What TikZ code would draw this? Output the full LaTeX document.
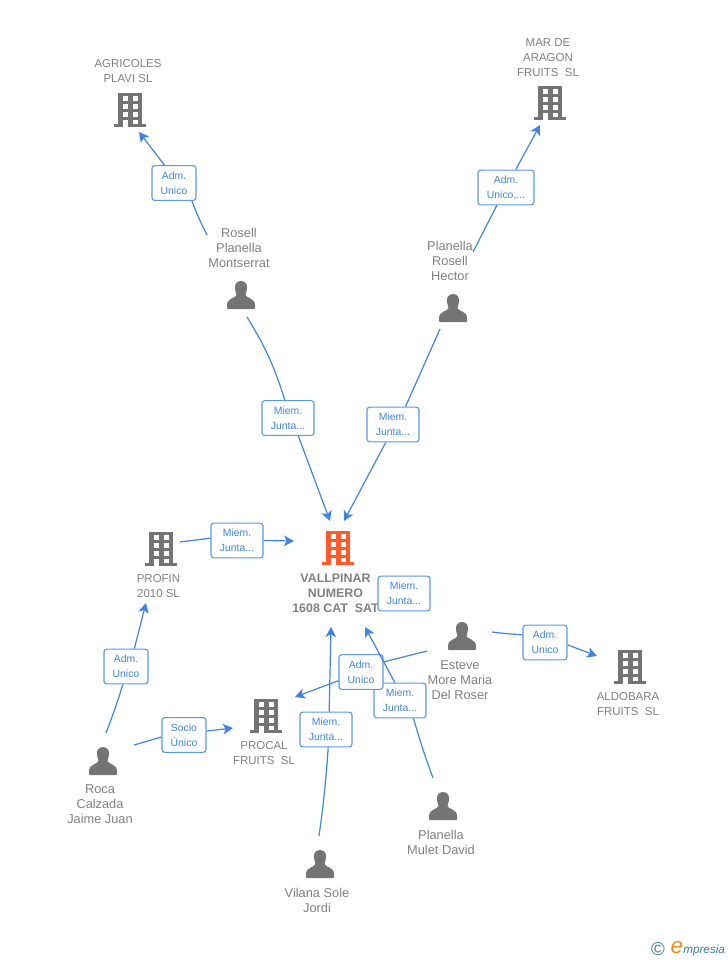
\documentclass[tikz,border=0pt]{standalone}
\usepackage{fontspec}
\setmainfont{Liberation Sans}
\usetikzlibrary{arrows.meta}
\definecolor{linkblue}{HTML}{3F84E5}
\definecolor{boxblue}{HTML}{5A98E8}
\definecolor{namegray}{HTML}{808080}
\definecolor{icongray}{HTML}{747474}
\definecolor{mainorange}{HTML}{FF5A2B}
\definecolor{logoteal}{HTML}{3B7C96}
\definecolor{logoorange}{HTML}{F58A1F}
\tikzstyle{who} = [inner sep=0, align=center, text=namegray, font={\fontsize{9.6}{11.25}\selectfont}]
\tikzstyle{firm} = [who, font={\fontsize{8.6}{11.25}\selectfont}]
\tikzstyle{mainfirm} = [who, font={\fontsize{9.3}{11.25}\selectfont\bfseries}]
\tikzstyle{role} = [draw=boxblue, line width=0.85pt, fill=white, rounded corners=2pt, inner sep=0, align=center, text=linkblue, minimum width=39pt, minimum height=26pt, font={\fontsize{7.8}{11.25}\selectfont}]
\tikzstyle{roleshort} = [role, minimum width=33pt]
\tikzstyle{rolewide} = [role, minimum width=42pt]
\tikzstyle{link} = [draw=linkblue, line width=0.9pt]
\tikzstyle{arrow} = [link, -{Stealth[length=7.5pt,width=8pt,inset=2pt]}]
\tikzset{
  building/.pic={
    \fill[pic actions] (-12,-17) rectangle (12,14);
    \fill[pic actions] (-16,14) rectangle (16,17);
    \foreach \row in {-14,-6,2} {
      \fill[white] (-7.5,\row) rectangle (-2.5,\row+4.5);
      \fill[white] (2.5,\row) rectangle (7.5,\row+4.5);
    }
    \fill[white] (-7.5,9.5) rectangle (-2.5,17);
    \fill[white] (2.5,9.5) rectangle (7.5,13.5);
  },
  person/.pic={
    \fill[icongray] (0,-14) .. controls (-5,-14) and (-6.5,-10) .. (-6,-6)
      .. controls (-5.7,-3) and (-4.5,-1.5) .. (-4.5,0)
      .. controls (-5,3) and (-14,3) .. (-14,10)
      -- (-14,13) .. controls (-14,14) and (-13.5,14) .. (-13,14)
      -- (13,14) .. controls (13.5,14) and (14,14) .. (14,13) -- (14,10)
      .. controls (14,3) and (5,3) .. (4.5,0)
      .. controls (4.5,-1.5) and (5.7,-3) .. (6,-6)
      .. controls (6.5,-10) and (5,-14) .. (0,-14) -- cycle;
  }
}

\begin{document}
\begin{tikzpicture}[x=0.75pt,y=-0.75pt]
    \useasboundingbox (0,0) rectangle (728,960);
    % companies
    \pic[icongray] at (130,110) {building};
    \pic[icongray] at (550,103) {building};
    \pic[mainorange] at (338,548) {building};
    \pic[icongray] at (161,549) {building};
    \pic[icongray] at (630,667) {building};
    \pic[icongray] at (266,716) {building};
    \node[firm](agricoles) at (128,71.5){AGRICOLES\\PLAVI SL};
    \node[firm](mardearagon) at (548,58){MAR DE\\ARAGON\\FRUITS\ \ SL};
    \node[mainfirm](vallpinar) at (335.5,593){VALLPINAR\\NUMERO\\1608 CAT\ \ SAT};
    \node[firm](profin) at (158.5,586.5){PROFIN\\2010 SL};
    \node[firm](aldobara) at (628,704.5){ALDOBARA\\FRUITS\ \ SL};
    \node[firm](procal) at (264,753.5){PROCAL\\FRUITS\ \ SL};
    % people
    \pic at (241,295) {person};
    \pic at (453,308) {person};
    \pic at (462,636) {person};
    \pic at (103,761) {person};
    \pic at (443,806) {person};
    \pic at (320,864) {person};
    \node[who](rosell) at (239,248){Rosell\\Planella\\Montserrat};
    \node[who](planella) at (450,261){Planella\\Rosell\\Hector};
    \node[who](esteve) at (460,680){Esteve\\More Maria\\Del Roser};
    \node[who](roca) at (100,804){Roca\\Calzada\\Jaime Juan};
    \node[who](mulet) at (441,842.5){Planella\\Mulet David};
    \node[who](vilana) at (317,900.5){Vilana Sole\\Jordi};
    % free ends
    \coordinate (rosellup) at (207,235);
    \coordinate (toagricoles) at (139,132);
    \coordinate (planellaup) at (473,252);
    \coordinate (tomar) at (540,125);
    \coordinate (roselldown) at (247,317);
    \coordinate (tovallleft) at (330,521);
    \coordinate (planelladown) at (440,329);
    \coordinate (tovallright) at (344,521);
    \coordinate (profinout) at (180,542);
    \coordinate (tovallside) at (294,541);
    \coordinate (esteveright) at (492,632);
    \coordinate (toaldobara) at (597,656);
    \coordinate (esteveleft) at (427,651);
    \coordinate (toprocaltop) at (295,697);
    \coordinate (muletup) at (433,778);
    \coordinate (tovallmulet) at (365,627);
    \coordinate (vilanaup) at (319,836);
    \coordinate (tovallvilana) at (331,627);
    \coordinate (rocaup) at (106,733);
    \coordinate (toprofin) at (146,603);
    \coordinate (rocaright) at (134,745);
    \coordinate (toprocal) at (233,728);
    % roles
    \node[roleshort](admagricoles) at (174,183){Adm.\\Unico};
    \node[rolewide](admmar) at (506,187.5){Adm.\\Unico,...};
    \node[role](miemrosell) at (288,418){Miem.\\Junta...};
    \node[role](miemplanella) at (393,424.5){Miem.\\Junta...};
    \node[role](miemprofin) at (237,540.5){Miem.\\Junta...};
    \node[role](miemesteve) at (404,593.5){Miem.\\Junta...};
    \node[roleshort](admaldobara) at (545,642.5){Adm.\\Unico};
    \node[role](miemmulet) at (400,700.5){Miem.\\Junta...};
    \node[roleshort](admprocal) at (361,672){Adm.\\Unico};
    \node[role](miemvilana) at (326,729.5){Miem.\\Junta...};
    \node[roleshort](admprofin) at (126,666.5){Adm.\\Unico};
    \node[roleshort](socioprocal) at (184,735){Socio\\Único};
    % links
    \draw[link](rosellup) to[bend left=3] (admagricoles.-45);
    \draw[arrow](admagricoles.118)--(toagricoles);
    \draw[link](planellaup)--(admmar);
    \draw[arrow](admmar)--(tomar);
    \draw[link](roselldown) to[bend left=7] (miemrosell.100);
    \draw[arrow](miemrosell.-60)--(tovallleft);
    \draw[link](planelladown)--(miemplanella.55);
    \draw[arrow](miemplanella.248)--(tovallright);
    \draw[link](profinout)--(miemprofin.175);
    \draw[arrow](miemprofin.0)--(tovallside);
    \draw[link](esteveright) to[bend right=2] (admaldobara.161);
    \draw[arrow](admaldobara.-6)--(toaldobara);
    \draw[link](esteveleft)--(admprocal.24);
    \draw[arrow](admprocal.201)--(toprocaltop);
    \draw[link](muletup) to[bend left=2] (miemmulet.-53);
    \draw[arrow](miemmulet.106)--(tovallmulet);
    \draw[link](vilanaup) to[bend right=2] (miemvilana.-83);
    \draw[arrow](miemvilana.80)--(tovallvilana);
    \draw[link](rocaup) to[bend right=2] (admprofin.260);
    \draw[arrow](admprofin.65)--(toprofin);
    \draw[link](rocaright)--(socioprocal.185);
    \draw[arrow](socioprocal.10)--(toprocal);
    % logo
    \node[inner sep=0,text=logoteal,font={\fontsize{14}{14}\selectfont}](copyright) at (658,949){©};
    \node[inner sep=0,text=logoorange,font={\fontsize{17}{17}\selectfont\itshape}](logoe) at (677,947){e};
    \node[inner sep=0,anchor=west,text=logoteal,font={\fontsize{8.8}{10}\selectfont\itshape}](logotext) at (683,950){mpresia};
\end{tikzpicture}
\end{document}
